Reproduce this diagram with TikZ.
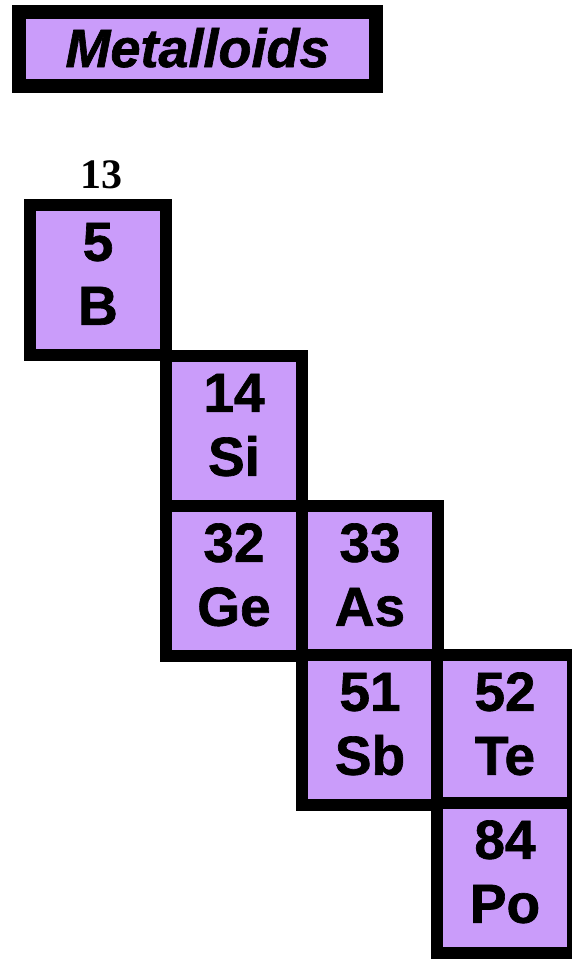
\documentclass[tikz,border=0pt]{standalone}
\usepackage{fontspec}
\setmainfont{Liberation Sans}
\newfontfamily\heavysans[FakeBold=1.2]{Liberation Sans Bold}
\newfontfamily\heavyitalic[FakeBold=1.2]{Liberation Sans Bold Italic}
\newfontfamily\serifnum{Liberation Serif}
\usetikzlibrary{calc}
\definecolor{metalpurple}{RGB}{202,156,250}
\begin{document}
\begin{tikzpicture}[x=1pt,y=-1pt,
  cellbox/.style={rectangle,draw=black,fill=metalpurple,line width=12.5pt,
    minimum width=136pt,minimum height=150pt,inner sep=0pt},
  titlebox/.style={rectangle,draw=black,fill=metalpurple,line width=14pt,
    minimum width=357pt,minimum height=74pt,inner sep=0pt},
  numtext/.style={anchor=base,inner sep=0pt,font=\heavysans\fontsize{55}{60}\selectfont},
  symtext/.style={anchor=base,inner sep=0pt,font=\heavysans\fontsize{55}{60}\selectfont}]
\useasboundingbox (0,0) rectangle (571,959);
% title
\node[titlebox] (title) at (197.5,49) {};
\node[anchor=base,inner sep=0pt,font=\heavyitalic\fontsize{54}{60}\selectfont]
  (titletext) at ($(title.center)+(0,18)$) {Metalloids};
% group label
\node[anchor=base,inner sep=0pt,font=\serifnum\fontsize{42}{46}\selectfont\bfseries]
  (group) at (101,188) {13};
% cells
\node[cellbox] (B)  at (98,280)  {};
\node[cellbox] (Si) at (234,431) {};
\node[cellbox] (Ge) at (234,581) {};
\node[cellbox] (As) at (370,581) {};
\node[cellbox] (Sb) at (370,730) {};
\node[cellbox] (Te) at (505,730) {};
\node[cellbox] (Po) at (505,878) {};
% texts
\foreach \c/\n/\s in {B/5/B, Si/14/Si, Ge/32/Ge, As/33/As, Sb/51/Sb, Te/52/Te, Po/84/Po}{
  \node[numtext] (\c-num) at ($(\c.north)+(0,62)$) {\n};
  \node[symtext] (\c-sym) at ($(\c.north)+(0,126)$) {\s};
}
\end{tikzpicture}
\end{document}
